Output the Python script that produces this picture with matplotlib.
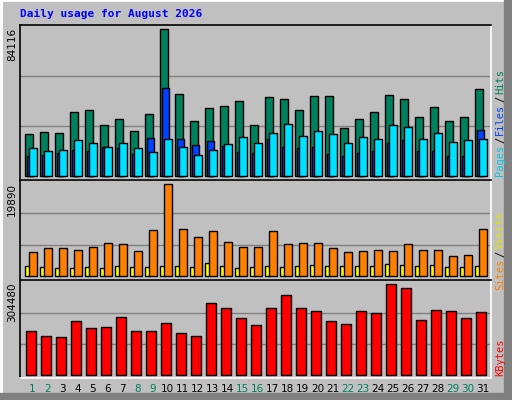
import matplotlib
matplotlib.use("Agg")
import matplotlib.pyplot as plt
import numpy as np

days = np.arange(1, 32)
weekend = [1, 2, 8, 9, 15, 16, 22, 23, 29, 30]

hits = [24032, 25177, 24605, 36621, 37766, 29183, 32616, 25750, 35477, 84116,
        46921, 31472, 38910, 40055, 42916, 29183, 45205, 44060, 37766, 45777,
        45777, 27466, 32616, 36621, 46349, 44060, 33760, 39483, 31472, 33760, 49782]
files = [11440, 12020, 13160, 14880, 14310, 16590, 16020, 12590, 21740, 50350,
         21170, 17740, 20030, 17170, 13730, 13160, 21170, 16590, 16020, 16590,
         12590, 11440, 13160, 14310, 18880, 20600, 14310, 14310, 11440, 11440, 26320]
pages = [16020, 14310, 14880, 20600, 18880, 16590, 18880, 16020, 13730, 21170,
         16590, 12020, 14880, 18310, 22320, 18880, 24600, 29750, 22890, 25750,
         24030, 18880, 22320, 21170, 29180, 28040, 21170, 24600, 19450, 20600, 21170]
visits = [5190, 6050, 6050, 5620, 6270, 7130, 6920, 5400, 9950, 19890,
          10160, 8430, 9730, 7350, 6270, 6270, 9730, 6920, 7130, 7130,
          6050, 5190, 5400, 5620, 5400, 6920, 5620, 5620, 4320, 4540, 10160]
sites = [2160, 1950, 1730, 1730, 1950, 1730, 2160, 1950, 1950, 2160,
         2160, 1950, 2810, 2160, 1730, 1950, 2160, 1950, 2160, 2380,
         2160, 2160, 2160, 2160, 2590, 2380, 2160, 2380, 1950, 1950, 2160]
kbytes = [147200, 130500, 127100, 180700, 157300, 160600, 194100, 147200, 147200, 174000,
          140500, 130500, 240900, 224200, 190700, 167300, 224200, 267700, 224200, 214100,
          180700, 170600, 214100, 207500, 304480, 291100, 184000, 217500, 214100, 190700, 210800]

BG = "#C0C0C0"
GREEN = "#00805C"
fig = plt.figure(figsize=(5.12, 4.0), dpi=100, facecolor=BG)

# outer bevel
fig.add_artist(plt.Line2D([0, 1], [0.999, 0.999], color="white", lw=2, transform=fig.transFigure))
fig.add_artist(plt.Line2D([0.001, 0.001], [0, 1], color="white", lw=2, transform=fig.transFigure))
fig.add_artist(plt.Line2D([0.992, 0.992], [0, 1], color="#808080", lw=6, transform=fig.transFigure))
fig.add_artist(plt.Line2D([0, 1], [0.008, 0.008], color="#808080", lw=6, transform=fig.transFigure))

fig.text(20 / 512, 1 - 14 / 400, "Daily usage for August 2026", color="#0000FF",
         family="DejaVu Sans Mono", weight="bold", fontsize=8, va="center")

L, W = 20 / 512, 471 / 512
ax1 = fig.add_axes([L, 1 - 180 / 400, W, 155 / 400])
ax2 = fig.add_axes([L, 1 - 280 / 400, W, 100 / 400])
ax3 = fig.add_axes([L, 1 - 378 / 400, W, 98 / 400])

u = 1 / 15  # one pixel in day units
kw = dict(align="edge", edgecolor="black", linewidth=1, zorder=3)

ax1.bar(days, hits, 8 * u, color=GREEN, **kw)
ax1.bar(days + 2 * u, files, 7 * u, color="#0040FF", **kw)
ax1.bar(days + 4 * u, pages, 8 * u, color="#00E0FF", **kw)
ax2.bar(days, sites, 5 * u, color="#FFFF00", **kw)
ax2.bar(days + 4 * u, visits, 8 * u, color="#FF8000", **kw)
ax3.bar(days + u, kbytes, 10 * u, color="#FF0000", **kw)

for ax, m, lo, hi, lab, ytxt in [(ax1, max(hits), 0.027, 1.027, "84116", 28),
                                 (ax2, max(visits), 0.043, 1.043, "19890", 183),
                                 (ax3, max(kbytes), 0.033, 1.044, "304480", 282)]:
    ax.set_facecolor(BG)
    ax.set_xlim(1 - 5 * u, 1 + 466 * u)
    ax.set_ylim(-lo * m, hi * m)
    for f in (0.34, 0.68):
        ax.axhline(f * m, color="#808080", lw=1, zorder=1)
    ax.set_yticks([])
    for s in ax.spines.values():
        s.set_color("black")
        s.set_linewidth(1.2)
    ax.spines["right"].set_color("white")
    ax.spines["bottom"].set_color("white")
    fig.text(12 / 512, 1 - ytxt / 400, lab, rotation=90, ha="center", va="top",
             family="DejaVu Sans", fontsize=7.5)

for ax in (ax1, ax2):
    ax.set_xticks([])
ax3.set_xticks(days + 0.5)
ax3.set_xticklabels([str(d) for d in days], fontsize=7.5)
ax3.tick_params(length=0, pad=4)
for t, d in zip(ax3.get_xticklabels(), days):
    t.set_color(GREEN if d in weekend else "black")

def side_label(parts, y_bottom):
    # stacked vertical text, reading bottom to top
    y = 1 - y_bottom / 400
    for txt, col in parts:
        t = fig.text(500 / 512, y, txt, rotation=90, ha="center", va="bottom", color=col,
                     family="DejaVu Sans Mono", fontsize=7.5)
        y += (len(txt) * 6.2 + 2) / 400

side_label([("Pages", "#00C8E0"), ("/", "black"), ("Files", "#0040FF"),
            ("/", "black"), ("Hits", GREEN)], 176)
side_label([("Sites", "#FF8000"), ("/", "black"), ("Visits", "#E0E000")], 290)
side_label([("KBytes", "#FF0000")], 376)

fig.savefig("out.png", dpi=100, facecolor=BG)
